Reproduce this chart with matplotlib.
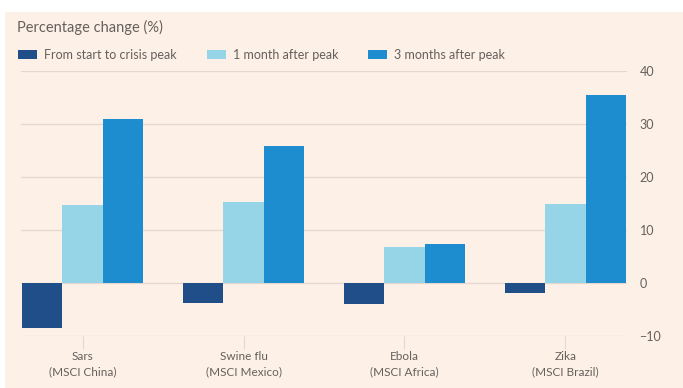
import numpy as np
import matplotlib
matplotlib.use('Agg')
import matplotlib.pyplot as plt
from matplotlib.patches import Rectangle

categories = ['Sars\n(MSCI China)', 'Swine flu\n(MSCI Mexico)', 'Ebola\n(MSCI Africa)', 'Zika\n(MSCI Brazil)']
series_names = ['From start to crisis peak', '1 month after peak', '3 months after peak']
start_to_peak = [-8.5, -3.8, -3.9, -1.9]
one_month = [14.8, 15.3, 6.8, 14.9]
three_months = [31.0, 25.8, 7.4, 35.5]
yticks = [-10, 0, 10, 20, 30, 40]

colors = ['#1f4e89', '#96d4e8', '#1d8dcf']
bg = '#fdf0e6'
grid_c = '#e4d8ce'
text_c = '#66605c'

plt.rcParams['font.family'] = ['Lato', 'DejaVu Sans']

fig = plt.figure(figsize=(6.83, 3.88), dpi=100, facecolor='white')
fig.patches.append(Rectangle((5 / 683, 0), 1, 1 - 12 / 388, transform=fig.transFigure,
                             facecolor=bg, edgecolor='none', zorder=-10))
ax = fig.add_axes([21 / 683, 1 - 336 / 388, (627 - 21) / 683, (336 - 71) / 388])
ax.set_facecolor(bg)
ax.patch.set_alpha(0)

x = np.arange(len(categories))
w = 0.2516
for i, vals in enumerate([start_to_peak, one_month, three_months]):
    ax.bar(x + (i - 1) * w, vals, width=w, color=colors[i], label=series_names[i], zorder=3)

ax.set_xlim(-1.5 * w - 0.005, len(categories) - 1 + 1.5 * w + 0.005)
ax.set_ylim(-10, 40)
ax.set_yticks(yticks)
ax.yaxis.tick_right()
ax.grid(axis='y', color=grid_c, linewidth=0.9, zorder=0)
ax.tick_params(axis='y', length=0, pad=9, labelsize=9, labelcolor=text_c)
ax.set_xticks(x)
ax.set_xticklabels(categories, fontsize=8.5, color=text_c, linespacing=1.45)
ax.tick_params(axis='x', length=9, width=0.8, color=grid_c, pad=2)
for s in ax.spines.values():
    s.set_visible(False)

fig.text(17 / 683, 1 - 27 / 388, 'Percentage change (%)', fontsize=10.5, color=text_c, va='center')
fig.legend(loc='center left', bbox_to_anchor=(18 / 683, 1 - 55 / 388), ncol=3, frameon=False,
           fontsize=9, handlelength=1.52, handleheight=0.64, handletextpad=0.56,
           columnspacing=2.4, borderpad=0, borderaxespad=0, labelcolor=text_c)

fig.savefig('out.png', dpi=100, facecolor=fig.get_facecolor())
